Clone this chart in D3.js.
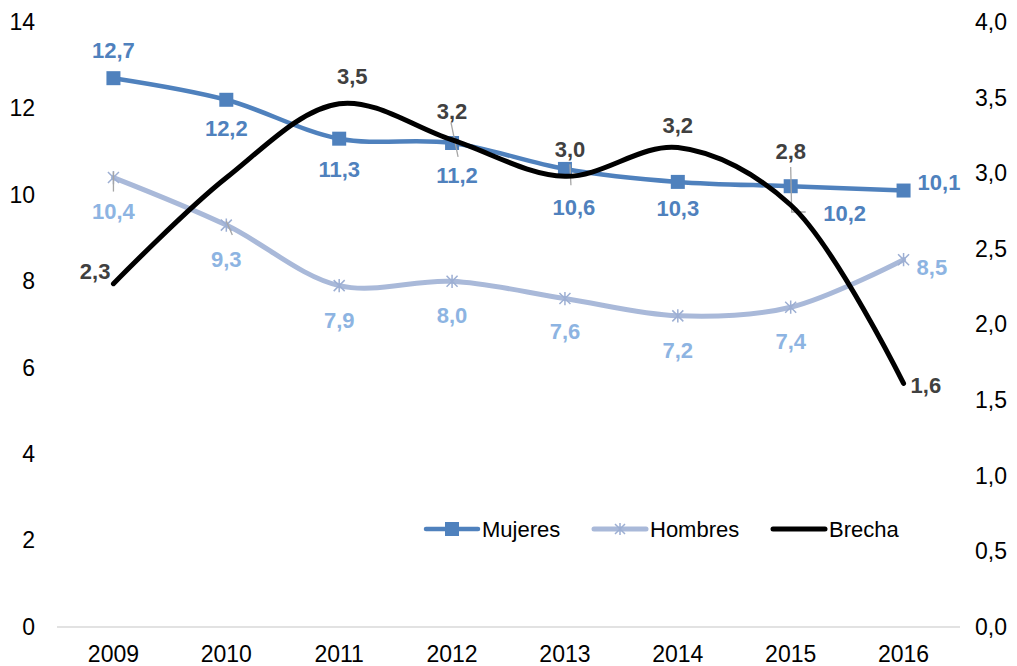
<!DOCTYPE html>
<html>
<head>
<meta charset="utf-8">
<script src="https://cdn.jsdelivr.net/npm/d3@7"></script>
<style>
  html, body { margin: 0; padding: 0; background: #fff; }
  svg { display: block; font-family: "Liberation Sans", Arial, sans-serif; }
</style>
</head>
<body>
<svg id="chart" width="1017" height="666"></svg>
<script>
// Data
const years = ['2009', '2010', '2011', '2012', '2013', '2014', '2015', '2016'];
const mujeres = [12.7, 12.2, 11.3, 11.2, 10.6, 10.3, 10.2, 10.1];
const hombres = [10.4, 9.3, 7.9, 8.0, 7.6, 7.2, 7.4, 8.5];
const brecha = [2.27, 2.97, 3.46, 3.22, 2.98, 3.17, 2.79, 1.61];
const brechaShown = [true, false, true, true, true, true, true, true];
const leftTicks = [0, 2, 4, 6, 8, 10, 12, 14];
const rightTicks = [0, 0.5, 1, 1.5, 2, 2.5, 3, 3.5, 4];

// Label placement (dx, dy from the point, text anchor)
const mujeresLabelPos = [[0, -28, 'middle'], [0, 28, 'middle'], [0, 30, 'middle'], [5, 32, 'middle'],
                         [9, 38, 'middle'], [0, 26, 'middle'], [54, 27, 'middle'], [14, -8, 'start']];
const hombresLabelPos = [[0, 34, 'middle'], [0, 34, 'middle'], [0, 34, 'middle'], [0, 34, 'middle'],
                         [0, 33, 'middle'], [0, 34, 'middle'], [0, 34, 'middle'], [13, 7, 'start']];
const brechaLabelPos = [[-3, -13, 'end'], [0, 0, 'middle'], [13, -28, 'middle'], [0, -29, 'middle'],
                        [5, -27, 'middle'], [0, -22, 'middle'], [0, -54, 'middle'], [7, 2, 'start']];

const svg = d3.select('#chart');
const fmt = v => d3.format('.1f')(v).replace('.', ',');

const x = d3.scaleBand().domain(years).range([57, 960]).padding(0);
const cx = d => x(d) + x.bandwidth() / 2;
const yL = d3.scaleLinear().domain([0, 14]).range([627, 22]);
const yR = d3.scaleLinear().domain([0, 4]).range([627, 22]);

// Baseline
svg.append('line')
    .attr('x1', 57).attr('x2', 960)
    .attr('y1', yL(0)).attr('y2', yL(0))
    .style('stroke', '#D9D9D9')
    .style('stroke-width', 1.5);

// Axes (text only)
const leftAxis = svg.append('g').attr('transform', `translate(${35}, 0)`)
    .call(d3.axisLeft(yL).tickValues(leftTicks).tickSize(0).tickPadding(0).tickFormat(d3.format('d')));
const rightAxis = svg.append('g').attr('transform', `translate(${975}, 0)`)
    .call(d3.axisRight(yR).tickValues(rightTicks).tickSize(0).tickPadding(0).tickFormat(fmt));
const bottomAxis = svg.append('g').attr('transform', `translate(0, ${646})`)
    .call(d3.axisBottom(x).tickSize(0).tickPadding(0));

[leftAxis, rightAxis, bottomAxis].forEach(ax => {
    ax.select('.domain').remove();
    ax.selectAll('text')
        .style('font-size', '23px')
        .style('fill', '#000')
        .style('font-family', '"Liberation Sans", Arial, sans-serif');
});
bottomAxis.selectAll('text').attr('dy', '0.71em').attr('y', 0);

const curve = d3.curveCatmullRom.alpha(0.5);

// Mujeres
const mujeresColor = '#4F81BD';
svg.append('path')
    .datum(mujeres)
    .attr('d', d3.line().x((d, i) => cx(years[i])).y(d => yL(d)).curve(curve))
    .style('fill', 'none')
    .style('stroke', mujeresColor)
    .style('stroke-width', 4.5)
    .style('stroke-linecap', 'round');

svg.append('g').selectAll('rect')
    .data(mujeres)
    .enter()
    .append('rect')
    .attr('x', (d, i) => cx(years[i]) - 7)
    .attr('y', d => yL(d) - 7)
    .attr('width', 14)
    .attr('height', 14)
    .style('fill', mujeresColor);

// Hombres
const hombresColor = '#A9B9D9';
svg.append('path')
    .datum(hombres)
    .attr('d', d3.line().x((d, i) => cx(years[i])).y(d => yL(d)).curve(curve))
    .style('fill', 'none')
    .style('stroke', hombresColor)
    .style('stroke-width', 5)
    .style('stroke-linecap', 'round');

const starPath = r => `M${-r},${-r}L${r},${r}M${-r},${r}L${r},${-r}M0,${-r * 1.2}L0,${r * 1.2}`;
svg.append('g').selectAll('path')
    .data(hombres)
    .enter()
    .append('path')
    .attr('transform', (d, i) => `translate(${cx(years[i])}, ${yL(d)})`)
    .attr('d', starPath(5.5))
    .style('fill', 'none')
    .style('stroke', '#9DAFD3')
    .style('stroke-width', 1.5);

// Leader lines (gray)
const leaders = [
    ['h', 0, [[0, -6], [0, 14]]],
    ['h', 1, [[0, -4], [6, 10]]],
    ['b', 3, [[-1, -17], [6, 17]]],
    ['b', 4, [[5, -12], [6, 9]]],
    ['b', 6, [[0, -38], [1, 7], [15, 7]]]
];
leaders.forEach(([s, i, pts]) => {
    const px = cx(years[i]);
    const py = s == 'h' ? yL(hombres[i]) : yR(brecha[i]);
    svg.append('path')
        .attr('d', d3.line()(pts.map(p => [px + p[0], py + p[1]])))
        .style('fill', 'none')
        .style('stroke', '#A6A6A6')
        .style('stroke-width', 1.3);
});

// Brecha (secondary axis)
svg.append('path')
    .datum(brecha)
    .attr('d', d3.line().x((d, i) => cx(years[i])).y(d => yR(d)).curve(curve))
    .style('fill', 'none')
    .style('stroke', '#000')
    .style('stroke-width', 5)
    .style('stroke-linecap', 'round');

// Data labels
function drawLabels(values, scale, pos, color, shown) {
    svg.append('g').selectAll('text')
        .data(values.map((v, i) => ({v: v, i: i})).filter(d => !shown || shown[d.i]))
        .enter()
        .append('text')
        .attr('x', d => cx(years[d.i]) + pos[d.i][0])
        .attr('y', d => scale(d.v) + pos[d.i][1])
        .attr('dy', '0.36em')
        .attr('text-anchor', d => pos[d.i][2])
        .style('font-size', '22px')
        .style('font-weight', 'bold')
        .style('fill', color)
        .text(d => fmt(d.v));
}
drawLabels(mujeres, yL, mujeresLabelPos, '#4F81BD');
drawLabels(hombres, yL, hombresLabelPos, '#8DB4E2');
drawLabels(brecha, yR, brechaLabelPos, '#404040', brechaShown);

// Legend
const legend = svg.append('g');
const legendItems = [
    {name: 'Mujeres', x: 426, color: mujeresColor, marker: 'square'},
    {name: 'Hombres', x: 594, color: hombresColor, marker: 'star'},
    {name: 'Brecha', x: 773, color: '#000', marker: null}
];
const ly = 529;
legendItems.forEach(item => {
    legend.append('line')
        .attr('x1', item.x).attr('x2', item.x + 52)
        .attr('y1', ly).attr('y2', ly)
        .style('stroke', item.color)
        .style('stroke-width', item.marker == 'square' ? 4.5 : 5)
        .style('stroke-linecap', 'round');
    if (item.marker == 'square') {
        legend.append('rect')
            .attr('x', item.x + 26 - 7).attr('y', ly - 7)
            .attr('width', 14).attr('height', 14)
            .style('fill', item.color);
    } else if (item.marker == 'star') {
        legend.append('path')
            .attr('transform', `translate(${item.x + 26}, ${ly})`)
            .attr('d', starPath(5))
            .style('fill', 'none')
            .style('stroke', '#9DAFD3')
            .style('stroke-width', 1.5);
    }
    legend.append('text')
        .attr('x', item.x + 56)
        .attr('y', ly)
        .attr('dy', '0.36em')
        .style('font-size', '22px')
        .style('fill', '#000')
        .text(item.name);
});
</script>
</body>
</html>
